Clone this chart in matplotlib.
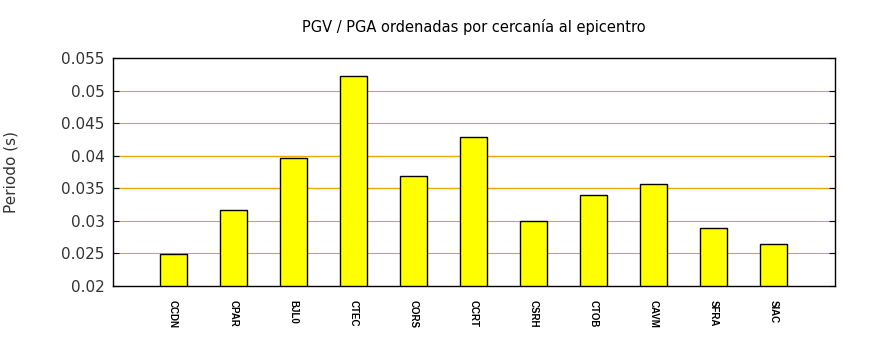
import numpy as np
import matplotlib
matplotlib.use('Agg')
import matplotlib.pyplot as plt

estaciones = ['CCDN', 'CPAR', 'BJL0', 'CTEC', 'CORS', 'CCRT',
              'CSRH', 'CTOB', 'CAVM', 'SFRA', 'SIAC']
periodo = [0.0249, 0.0317, 0.0396, 0.0522, 0.0369, 0.0429,
           0.0300, 0.0340, 0.0357, 0.0289, 0.0264]
yticks = [0.02, 0.025, 0.03, 0.035, 0.04, 0.045, 0.05, 0.055]
ylabels = ['0.02', '0.025', '0.03', '0.035', '0.04', '0.045', '0.05', '0.055']

fig = plt.figure(figsize=(8.7, 3.5), dpi=100)
ax = fig.add_axes([0.13, 0.183, 0.83, 0.651])

x = np.arange(1, len(estaciones) + 1)

# grid lines (two of them are brighter in the original)
for yv in yticks[1:-1]:
    if yv in (0.035, 0.04):
        ax.axhline(yv, color='#f0a800', lw=1.0, zorder=1)
    else:
        ax.axhline(yv, color='#b8a880', lw=0.8, zorder=1)

ax.bar(x, periodo, width=0.45, bottom=0, color='#ffff00',
       edgecolor='black', linewidth=1.0, zorder=2)

ax.set_xlim(0, 12.03)
ax.set_ylim(0.02, 0.055)
ax.set_yticks(yticks)
ax.set_yticklabels(ylabels, fontsize=11, color='#333333')
ax.tick_params(axis='y', direction='in', length=4, right=True, pad=6)
ax.set_xticks(x)
ax.set_xticklabels(estaciones, rotation=-90, fontsize=7, family='Liberation Sans',
                   fontweight='bold')
ax.tick_params(axis='x', length=0, pad=10)
for s in ax.spines.values():
    s.set_linewidth(1.0)

ax.set_ylabel('Periodo (s)', fontsize=11, labelpad=31, color='#333333')
fig.text(0.545, 0.922, 'PGV / PGA ordenadas por cercanía al epicentro',
         ha='center', va='center', fontsize=10.5)

fig.savefig('out.png', dpi=100)
